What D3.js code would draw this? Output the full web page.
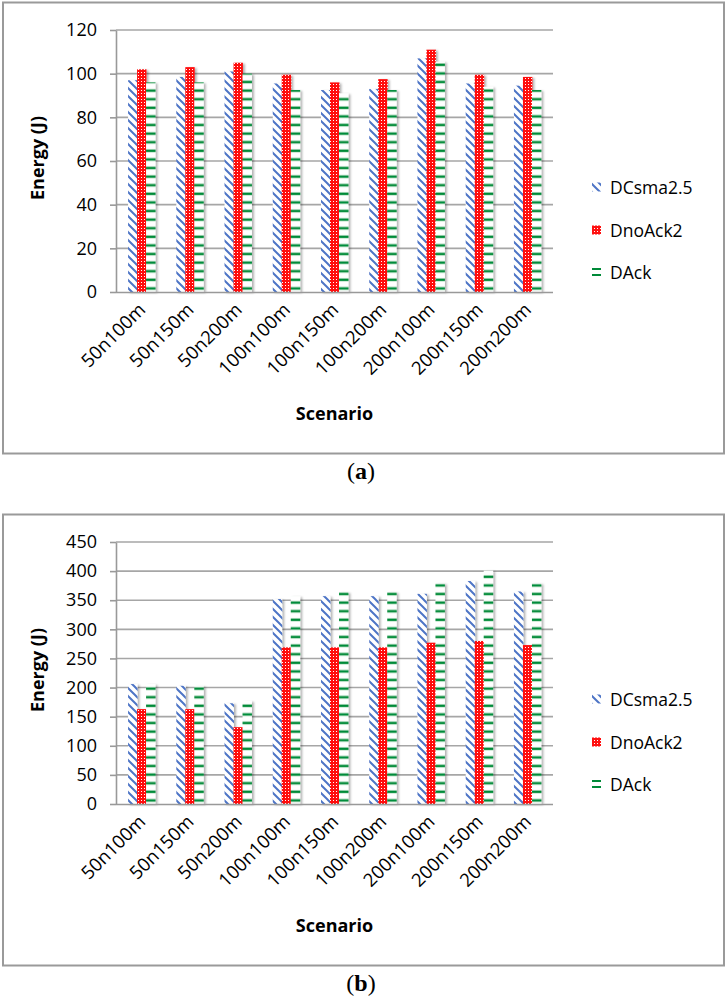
<!DOCTYPE html>
<html><head><meta charset="utf-8">
<script src="https://cdn.jsdelivr.net/npm/d3@7"></script>
<style>
html,body{margin:0;padding:0;background:#fff;}
svg{display:block;}
</style></head>
<body>
<svg id="chart" width="726" height="1000"></svg>
<script>
const categories = ["50n100m","50n150m","50n200m","100n100m","100n150m","100n200m","200n100m","200n150m","200n200m"];
const seriesNames = ["DCsma2.5","DnoAck2","DAck"];
// Chart (a)
const aDCsma  = [97, 98.5, 101, 95.5, 92.5, 93, 107, 95.5, 94.5];
const aDnoAck = [102, 103, 105, 99.5, 96, 97.5, 111, 99.5, 98.5];
const aDAck   = [96, 96, 100, 92.5, 91, 92.5, 105.5, 94, 92.5];
const aTicks  = [0, 20, 40, 60, 80, 100, 120];
// Chart (b)
const bDCsma  = [206, 203, 173, 352, 357, 357, 361, 383, 365];
const bDnoAck = [163, 163, 132, 269, 269, 269, 277, 280, 273];
const bDAck   = [206, 203, 177, 357, 364, 364, 379, 401, 379];
const bTicks  = [0, 50, 100, 150, 200, 250, 300, 350, 400, 450];

const FONT = '"Open Sans", sans-serif';
const svg = d3.select("#chart");
const defs = svg.append("defs");

// drop shadow
const f = defs.append("filter").attr("id","sh").attr("x","-40%").attr("y","-5%").attr("width","200%").attr("height","115%");
f.append("feDropShadow").attr("dx",2).attr("dy",1).attr("stdDeviation",1.1)
 .attr("flood-color","#000").attr("flood-opacity",0.3);

// blue diagonal
const pB = defs.append("pattern").attr("id","pBlue").attr("patternUnits","userSpaceOnUse").attr("width",8).attr("height",8);
pB.append("rect").attr("width",8).attr("height",8).attr("fill","#fff");
pB.append("path").attr("d","M-1,-1 L9,9 M-1,7 L1,9 M7,-1 L9,1")
  .attr("stroke","#4d74c6").attr("stroke-width",2);
// red checker
const pR = defs.append("pattern").attr("id","pRed").attr("patternUnits","userSpaceOnUse").attr("width",3).attr("height",3);
pR.append("rect").attr("width",3).attr("height",3).attr("fill","#ff1010");
pR.append("rect").attr("x",0).attr("y",0).attr("width",1).attr("height",1).attr("fill","#ffffff");
// green horizontal
const pG = defs.append("pattern").attr("id","pGreen").attr("patternUnits","userSpaceOnUse").attr("width",4).attr("height",8.6);
pG.append("rect").attr("width",4).attr("height",8.6).attr("fill","#fff");
pG.append("rect").attr("y",2.8).attr("width",4).attr("height",0.7).attr("fill","#b9e0c5");
pG.append("rect").attr("y",3.5).attr("width",4).attr("height",2.2).attr("fill","#008a38");
pG.append("rect").attr("y",5.7).attr("width",4).attr("height",0.7).attr("fill","#b9e0c5");

const fills = ["url(#pBlue)","url(#pRed)","url(#pGreen)"];

function drawChart(offY, seriesVals, ticks, caption) {
  const g = svg.append("g").attr("transform", `translate(0,${offY})`);
  // frame
  g.append("rect").attr("x",3).attr("y",2.5).attr("width",721).attr("height",451)
   .attr("fill","none").attr("stroke","#9a9a9a").attr("stroke-width",2);

  const left = 116, right = 553, top = 30, bottom = 292;
  const x = d3.scaleBand().domain(categories).range([left, right]).paddingInner(0.44).paddingOuter(0.25);
  const xs = d3.scaleBand().domain(seriesNames).range([0, x.bandwidth()]);
  const y = d3.scaleLinear().domain([0, ticks[ticks.length-1]]).range([bottom, top]);

  // grid
  g.append("g").selectAll("line").data(ticks.slice(1)).join("line")
    .attr("x1", left).attr("x2", right).attr("y1", d=>y(d)).attr("y2", d=>y(d))
    .attr("stroke","#a6a6a6").attr("stroke-width",1.6);

  // y axis
  const ya = g.append("g").attr("transform",`translate(${left},0)`)
    .call(d3.axisLeft(y).tickValues(ticks).tickSizeInner(6).tickSizeOuter(0).tickPadding(13).tickFormat(d3.format("d")));
  ya.selectAll("path,line").attr("stroke","#999").attr("stroke-width",1.6);
  ya.selectAll("text").style("font-family",FONT).style("font-size","18px").attr("fill","#000");

  // bars
  const series = seriesNames.map((s,i)=>({name:s, vals:seriesVals[i], fill:fills[i]}));
  series.forEach(s=>{
    g.append("g").attr("filter","url(#sh)").selectAll("rect").data(categories).join("rect")
      .attr("x", (c)=>x(c)+xs(s.name))
      .attr("width", xs.bandwidth()+0.4)
      .attr("y", (c,i)=>y(s.vals[i]))
      .attr("height", (c,i)=>bottom - y(s.vals[i]))
      .attr("fill", s.fill);
  });

  // x axis
  const xa = g.append("g").attr("transform",`translate(0,${bottom})`)
    .call(d3.axisBottom(x).tickSize(0).tickPadding(0));
  xa.select(".domain").attr("stroke","#999").attr("stroke-width",1.6)
    .attr("d", `M${left},0.5H${right}`);
  xa.selectAll(".tick text")
    .style("font-family",FONT).style("font-size","18.5px").attr("fill","#000")
    .attr("text-anchor","end").attr("dy",0)
    .attr("transform","translate(5,19) rotate(-45)");

  // axis titles
  g.append("text").attr("x",(left+right)/2).attr("y",420).attr("text-anchor","middle")
    .style("font-family",FONT).style("font-weight","bold").style("font-size","18px").text("Scenario");
  g.append("text").attr("transform","translate(44,158) rotate(-90)").attr("text-anchor","middle")
    .style("font-family",FONT).style("font-weight","bold").style("font-size","18px").text("Energy (J)");

  // legend
  const ly = [187, 230, 272];
  const lg = g.append("g");
  series.forEach((s,i)=>{
    if (i===2) {
      lg.append("rect").attr("x",592).attr("y",ly[i]-4).attr("width",9).attr("height",2).attr("fill","#008a38");
      lg.append("rect").attr("x",592).attr("y",ly[i]+2).attr("width",9).attr("height",2).attr("fill","#008a38");
    } else {
      lg.append("rect").attr("x",592).attr("y",ly[i]-4.5).attr("width",9).attr("height",9).attr("fill",s.fill);
    }
    lg.append("text").attr("x",610).attr("y",ly[i]+6.5)
      .style("font-family",FONT).style("font-size","17.5px").text(s.name);
  });

  // caption
  const cap = svg.append("text").attr("x",361).attr("y",offY+479).attr("text-anchor","middle")
    .style("font-family",'"Liberation Serif", "DejaVu Serif", serif').style("font-size","24px");
  cap.append("tspan").text("(");
  cap.append("tspan").style("font-weight","bold").text(caption);
  cap.append("tspan").text(")");
}

drawChart(0, [aDCsma, aDnoAck, aDAck], aTicks, "a");
drawChart(512, [bDCsma, bDnoAck, bDAck], bTicks, "b");
</script>
</body></html>
